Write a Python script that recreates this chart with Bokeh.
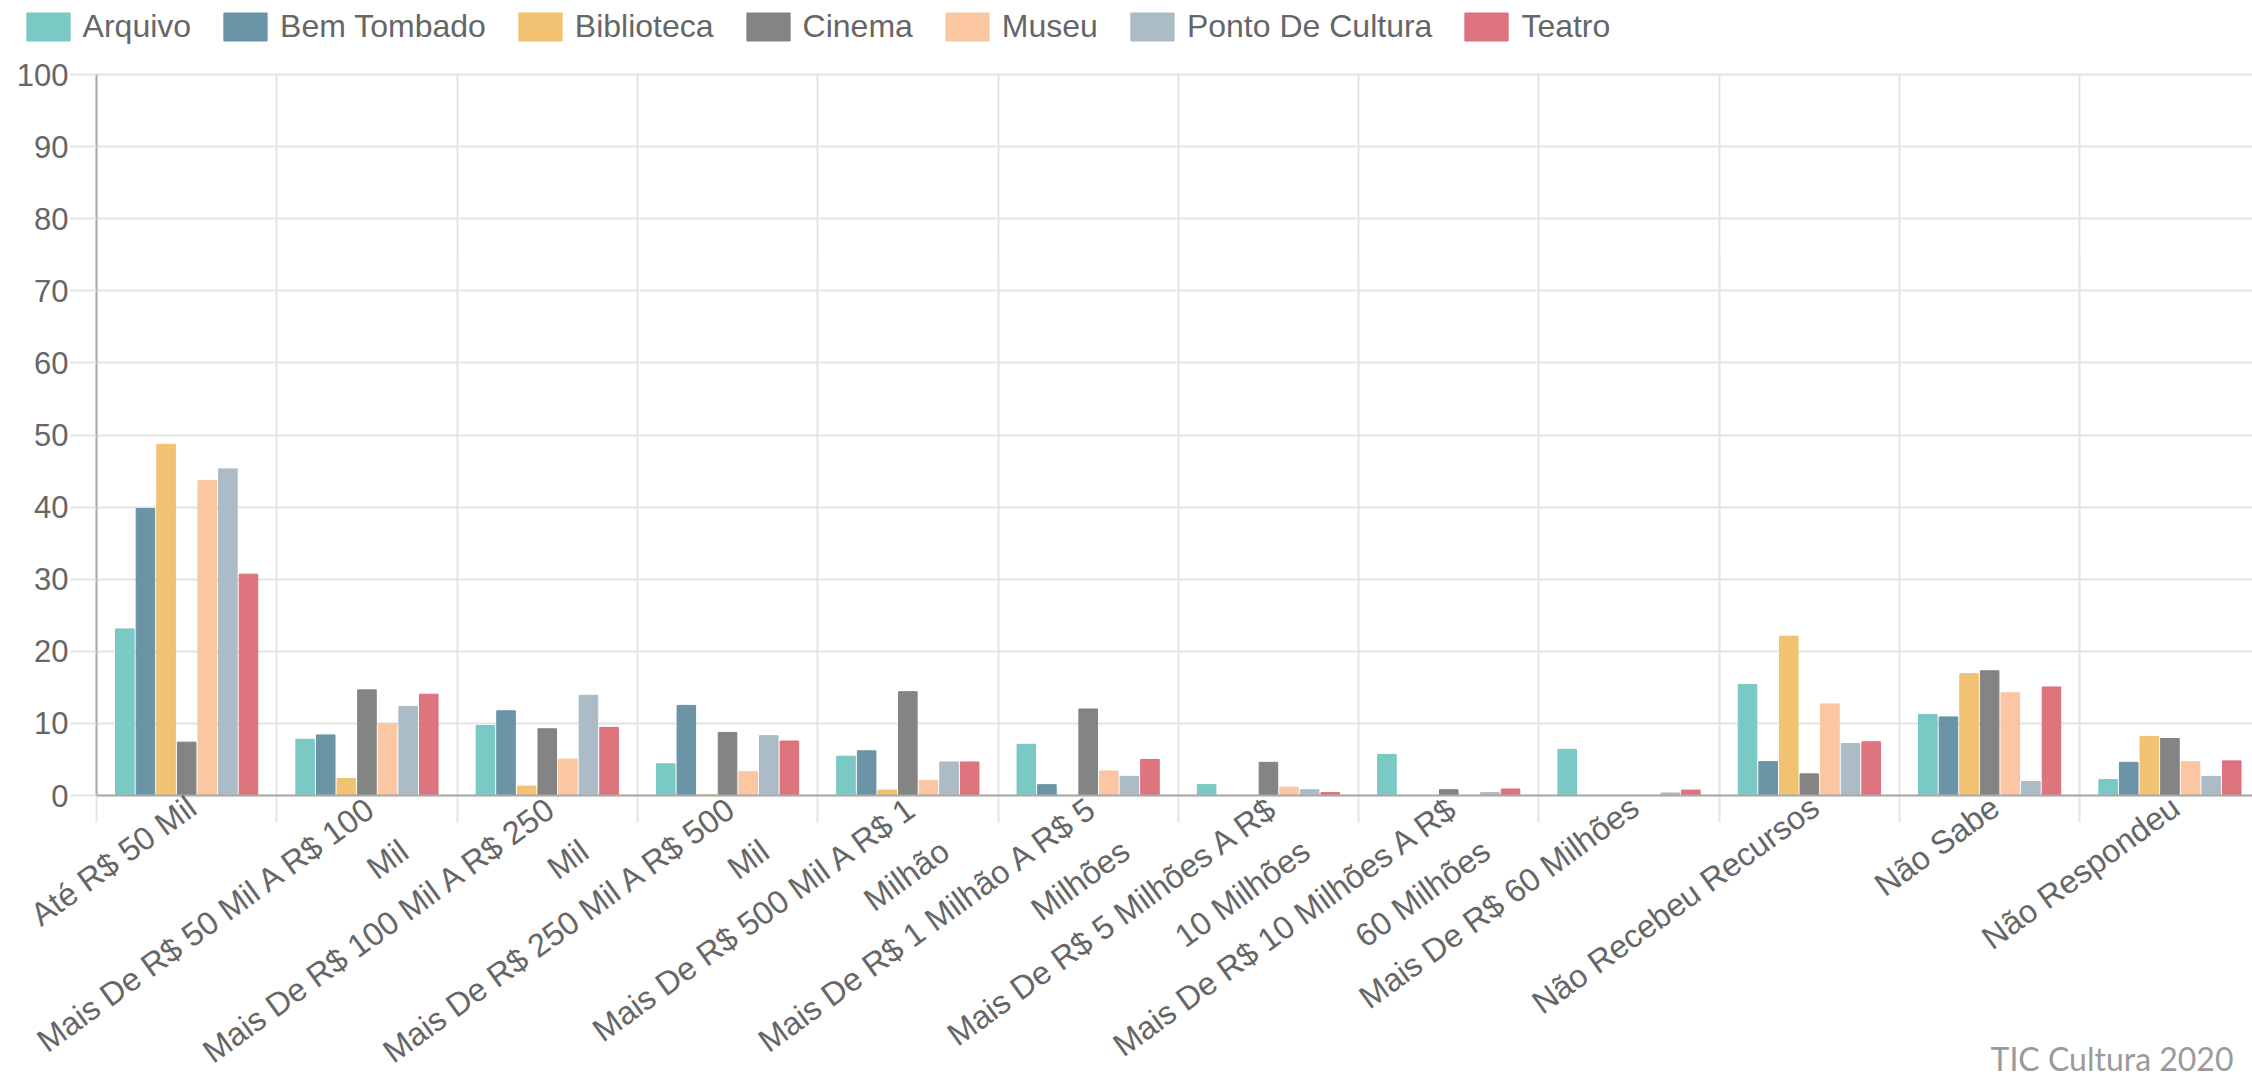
import math
from bokeh.plotting import figure
from bokeh.models import (Range1d, FixedTicker, Legend, LegendItem,
                          Label, ColumnDataSource, Grid, LinearAxis)
from bokeh.transform import dodge
from bokeh.embed import file_html
from bokeh.resources import INLINE

# ---------------- data ----------------
categories = [
    "Até R$ 50 Mil",
    "Mais De R$ 50 Mil A R$ 100\nMil",
    "Mais De R$ 100 Mil A R$ 250\nMil",
    "Mais De R$ 250 Mil A R$ 500\nMil",
    "Mais De R$ 500 Mil A R$ 1\nMilhão",
    "Mais De R$ 1 Milhão A R$ 5\nMilhões",
    "Mais De R$ 5 Milhões A R$\n10 Milhões",
    "Mais De R$ 10 Milhões A R$\n60 Milhões",
    "Mais De R$ 60 Milhões",
    "Não Recebeu Recursos",
    "Não Sabe",
    "Não Respondeu",
]
series_names = ["Arquivo", "Bem Tombado", "Biblioteca", "Cinema", "Museu",
                "Ponto De Cultura", "Teatro"]
arquivo = [23.1, 7.8, 9.7, 4.4, 5.45, 7.1, 1.5, 5.7, 6.4, 15.4, 11.25, 2.2]
bem_tombado = [39.8, 8.4, 11.75, 12.5, 6.2, 1.5, 0, 0, 0, 4.7, 10.9, 4.6]
biblioteca = [48.7, 2.35, 1.3, 0.1, 0.75, 0, 0, 0, 0, 22.1, 16.9, 8.2]
cinema = [7.4, 14.65, 9.25, 8.75, 14.4, 12.0, 4.6, 0.8, 0, 3.0, 17.3, 7.9]
museu = [43.7, 10.0, 5.05, 3.3, 2.1, 3.4, 1.15, 0, 0, 12.7, 14.25, 4.7]
ponto_de_cultura = [45.3, 12.35, 13.9, 8.3, 4.65, 2.65, 0.8, 0.4, 0.35, 7.2, 1.95, 2.65]
teatro = [30.7, 14.05, 9.45, 7.55, 4.65, 5.0, 0.4, 0.9, 0.75, 7.45, 15.05, 4.8]
series_values = [arquivo, bem_tombado, biblioteca, cinema, museu,
                 ponto_de_cultura, teatro]
colors = ["#76c7c3", "#6692a3", "#f0c06c", "#808080", "#fbc49f", "#a9bac5", "#dc6f7a"]
y_ticks = list(range(0, 101, 10))
source_note = "TIC Cultura 2020"

FONT = "Liberation Sans"
TXT = "#666666"
GRID = "#e4e4e4"
AXIS = "#aaaaaa"

n_cat = len(categories)
centers = [i + 0.5 for i in range(n_cat)]
boundaries = list(range(n_cat + 1))

# ---------------- layout (pixels) ----------------
W, H = 2252, 1080
LEFT = 96           # pixel column of the y axis
Y100, Y0 = 74, 795  # pixel rows of 100 and 0
ppu = (Y0 - Y100) / 100.0
cat_px = 180.3
x_start = -LEFT / cat_px
x_end = (W - LEFT) / cat_px
y_top = 100 + Y100 / ppu
y_bot = -(H - Y0) / ppu

p = figure(width=W, height=H, output_backend="svg", toolbar_location=None,
           x_range=Range1d(x_start, x_end), y_range=Range1d(y_bot, y_top),
           x_axis_location=None, y_axis_location=None,
           min_border_left=0, min_border_top=0, min_border_bottom=0,
           min_border_right=0)
p.outline_line_color = None
p.background_fill_color = "white"
p.border_fill_color = "white"
for g in p.grid:
    g.visible = False

has_cb = "cross_bounds" in Grid.properties()

# horizontal grid lines (0..100), only right of the y axis
hgrid = Grid(dimension=1, ticker=FixedTicker(ticks=y_ticks),
             grid_line_color=GRID, grid_line_width=2)
# vertical grid lines at category boundaries, reaching 27px below zero
vgrid = Grid(dimension=0, ticker=FixedTicker(ticks=boundaries),
             grid_line_color=GRID, grid_line_width=2)
if has_cb:
    hgrid.cross_bounds = (0, x_end)
    vgrid.cross_bounds = (-27 / ppu, 100)
    p.add_layout(hgrid)
    p.add_layout(vgrid)
else:
    p.segment(x0=[0] * len(y_ticks), x1=[x_end] * len(y_ticks), y0=y_ticks, y1=y_ticks,
              line_color=GRID, line_width=2)
    p.segment(x0=boundaries, x1=boundaries, y0=-27 / ppu, y1=100,
              line_color=GRID, line_width=2)

# bars
slot = 0.8 / len(series_names)
bar_w = slot * 0.9
renderers = []
for j, (name, vals, col) in enumerate(zip(series_names, series_values, colors)):
    src = ColumnDataSource(dict(xc=centers, top=vals))
    r = p.vbar(x=dodge("xc", (j - 3) * slot, range=p.x_range), top="top", bottom=0,
               width=bar_w, source=src, fill_color=col, line_color=col,
               fill_alpha=0.97, line_alpha=1.0, line_width=1)
    renderers.append(r)

# y axis, drawn at x = 0 inside the frame
ya = LinearAxis(fixed_location=0, bounds=(0, 100), ticker=FixedTicker(ticks=y_ticks))
ya.major_tick_out = 26
ya.major_tick_in = 0
ya.major_tick_line_color = GRID
ya.major_tick_line_width = 2
ya.minor_tick_line_color = None
ya.axis_line_color = AXIS
ya.axis_line_width = 2
ya.major_label_standoff = 2
ya.major_label_text_font = FONT
ya.major_label_text_font_size = "31px"
ya.major_label_text_color = TXT
p.add_layout(ya, "left")

# x axis at y = 0 with rotated category labels
lab_shift = 0.12
lab_pos = [c + lab_shift for c in centers]
xa = LinearAxis(fixed_location=0, bounds=(0, x_end), ticker=FixedTicker(ticks=lab_pos))
xa.major_label_overrides = {pos: (t if "\n" in t else t + "\n")
                            for pos, t in zip(lab_pos, categories)}
xa.major_label_orientation = math.radians(36)
xa.major_tick_out = 0
xa.major_tick_in = 0
xa.major_tick_line_color = None
xa.minor_tick_line_color = None
xa.axis_line_color = AXIS
xa.axis_line_width = 2
xa.major_label_standoff = 30
xa.major_label_text_font = FONT
xa.major_label_text_font_size = "32.5px"
xa.major_label_text_color = TXT
xa.major_label_text_line_height = 1.5
p.add_layout(xa, "below")

# legend (inside the frame, above the plotting area)
LEG_H = 35
items = [LegendItem(label=n, renderers=[r]) for n, r in zip(series_names, renderers)]
legend = Legend(items=items, orientation="horizontal",
                location=(20.6, H - LEG_H - 9.5),
                glyph_width=54, glyph_height=LEG_H, label_standoff=8, spacing=27,
                padding=0, margin=0, border_line_color=None,
                background_fill_alpha=0, label_text_font=FONT,
                label_text_font_size="32px", label_text_color=TXT,
                label_height=LEG_H)
p.add_layout(legend, "center")

# source note
note = Label(x=(1990 - LEFT) / cat_px, y=-(1058 - Y0) / ppu, text=source_note,
             text_font="Lato", text_font_size="32px", text_color="#9a9a9a",
             text_baseline="middle", text_align="left")
p.add_layout(note)

open("out.html", "w").write(file_html(p, INLINE))
